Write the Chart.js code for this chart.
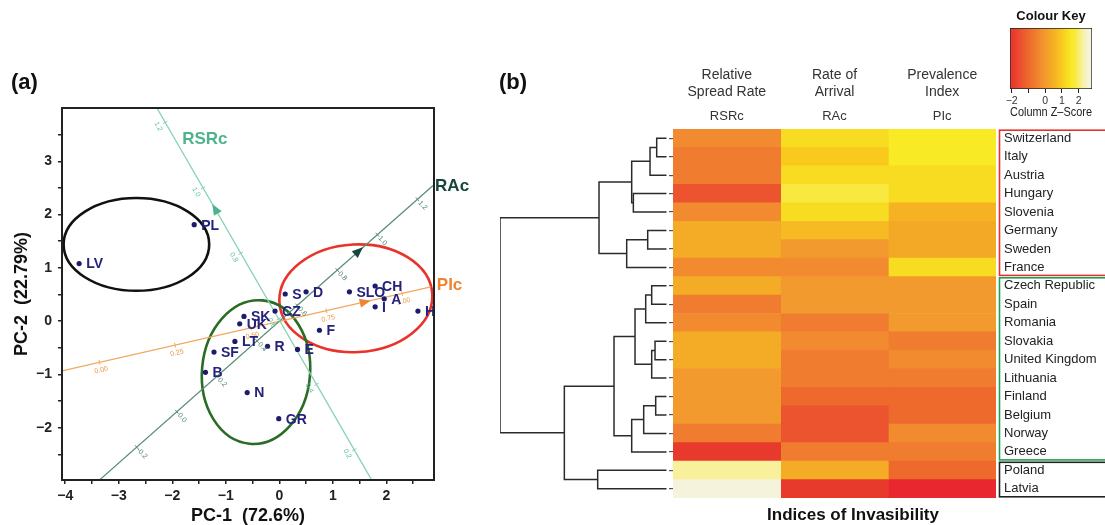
<!DOCTYPE html>
<html>
<head>
<meta charset="utf-8">
<script src="https://cdn.jsdelivr.net/npm/chart.js@4.4.1/dist/chart.umd.min.js"></script>
<style>
  body { margin: 0; background: #fff; width: 1105px; height: 525px; overflow: hidden; position: relative;
         font-family: "Liberation Sans", Arial, Helvetica, sans-serif; }
  canvas, .txt { position: absolute; }
  .panel { font-weight: bold; font-size: 22px; line-height: 22px; color: #111; }
</style>
</head>
<body>
<canvas id="pcaChart" width="495" height="525" style="left:0;top:0"></canvas>
<canvas id="treeChart" width="180" height="525" style="left:495px;top:0"></canvas>
<canvas id="heatChart" width="440" height="525" style="left:665px;top:0"></canvas>
<canvas id="keyChart" width="105" height="125" style="left:1000px;top:0"></canvas>
<div class="txt panel" style="left:11px;top:71px;">(a)</div>
<div class="txt panel" style="left:499px;top:71px;">(b)</div>
<div class="txt" style="left:703px;width:300px;top:505px;line-height:20px;text-align:center;font-weight:bold;font-size:17px;color:#111;">Indices of Invasibility</div>
<script>
// ============================
// DATA - panel (a) PCA biplot
// ============================
const pointCodes = ['S', 'D', 'SLO', 'CH', 'A', 'I', 'H', 'CZ', 'SK', 'UK', 'F', 'LT', 'R', 'E', 'SF', 'B', 'N', 'GR', 'PL', 'LV'];
const pc1 = [0.11, 0.50, 1.31, 1.79, 1.96, 1.79, 2.59, -0.08, -0.66, -0.74, 0.75, -0.83, -0.22, 0.34, -1.22, -1.38, -0.60, -0.01, -1.59, -3.74];
const pc2 = [0.51, 0.55, 0.55, 0.66, 0.42, 0.27, 0.19, 0.19, 0.09, -0.05, -0.17, -0.38, -0.47, -0.53, -0.58, -0.96, -1.34, -1.83, 1.81, 1.08];

const xTicks = [-4, -3.5, -3, -2.5, -2, -1.5, -1, -0.5, 0, 0.5, 1, 1.5, 2, 2.5];
const yTicks = [-2.5, -2, -1.5, -1, -0.5, 0, 0.5, 1, 1.5, 2, 2.5, 3, 3.5];

// cluster ellipses: centre, radii (PC units), tilt
const ellipseCx = [-2.67, 1.43, -0.435];
const ellipseCy = [1.44, 0.43, -0.955];
const ellipseRx = [1.36, 1.43, 1.01];
const ellipseRy = [0.87, 1.01, 1.35];
const ellipseTilt = [0, -3, 5];

// loading vectors: ends in PC units, value at each end, ticks
const loadNames = ['RSRc', 'RAc', 'PIc'];
const loadStart = [[-2.287, 4.0], [-3.358, -2.978], [-4.06, -0.931]];
const loadEnd = [[1.724, -2.978], [2.873, 2.547], [2.830, 0.642]];
const loadRange = [[1.244, 0.108], [-0.385, 1.278], [-0.124, 1.095]];
const loadArrowAt = [0.935, 0.906, 0.877];
const loadNameAt = [1.15, 1.278, 1.095];
const loadTicks = [
  [0.2, 0.4, 0.6, 0.8, 1.0, 1.2],
  [-0.2, 0.0, 0.2, 0.4, 0.6, 0.8, 1.0, 1.2],
  [0.0, 0.25, 0.5, 0.75, 1.0]
];
const loadTickText = [
  ['0.2', '0.4', '0.6', '0.8', '1.0', '1.2'],
  ['-0.2', '0.0', '0.2', '0.4', '0.6', '0.8', '1.0', '1.2'],
  ['0.00', '0.25', '0.50', '0.75', '1.00']
];

// ============================
// DATA - panel (b) heatmap
// ============================
const countries = ['Switzerland', 'Italy', 'Austria', 'Hungary', 'Slovenia', 'Germany', 'Sweden', 'France',
  'Czech Republic', 'Spain', 'Romania', 'Slovakia', 'United Kingdom', 'Lithuania', 'Finland', 'Belgium',
  'Norway', 'Greece', 'Poland', 'Latvia'];
const columnNames = [['Relative', 'Spread Rate'], ['Rate of', 'Arrival'], ['Prevalence', 'Index']];
const columnCodes = ['RSRc', 'RAc', 'PIc'];

// column z-scores
const rsrcZ = [-0.3, -0.6, -0.6, -1.4, -0.3, 0.4, 0.4, -0.3, 0.4, -0.6, -0.3, 0.4, 0.4, 0.0, 0.0, 0.0, -0.6, -1.9, 2.2, 2.6];
const racZ = [1.3, 1.0, 1.3, 1.8, 1.3, 0.7, 0.0, -0.3, 0.0, 0.0, -0.6, -0.3, -0.6, -0.6, -1.0, -1.4, -1.4, -0.6, 0.4, -1.9];
const picZ = [1.6, 1.6, 1.3, 1.3, 0.55, 0.35, 0.35, 1.3, 0.0, 0.0, 0.0, -0.6, -0.3, -0.6, -1.0, -1.0, -0.3, -0.6, -1.0, -2.2];
const zScores = [rsrcZ, racZ, picZ];

// dendrogram merges: >=0 is a row, <0 is merge -(k+1)
const mergeLeft = [0, -1, 3, -2, 5, -5, -4, 8, -8, 11, -10, -9, 14, -13, -14, -12, 18, -16, -7];
const mergeRight = [1, 2, 4, -3, 6, 7, -6, 9, 10, 12, 13, -11, 15, 16, 17, -15, 19, -17, -18];
const mergeHeight = [0.6, 1.0, 2.0, 2.1, 1.14, 2.4, 4.06, 0.9, 1.26, 0.7, 0.9, 1.9, 0.66, 1.38, 2.1, 3.16, 4.14, 6.14, 10];

// row clusters boxed on the right
const clusterFirst = [0, 8, 18];
const clusterLast = [7, 17, 19];

// colour key
const keyMin = -2.1, keyMax = 2.8;
const keyTicks = [-2, -1, 0, 1, 2];

// ============================
// STYLE
// ============================
const FONT = '"Liberation Sans", Arial, Helvetica, sans-serif';
Chart.defaults.font.family = FONT;
Chart.defaults.color = '#222';

const paletteStops = [-2.2, -1.9, -1.4, -1.0, -0.6, -0.3, 0.0, 0.4, 0.7, 1.0, 1.3, 1.6, 1.8, 2.2, 2.6];
const paletteColours = ['#e8282e', '#e83a2c', '#ec5430', '#ee6a2c', '#ef7c2f', '#f28b30', '#f39a2e', '#f4ab25',
  '#f6ba23', '#f9c91e', '#f8dc22', '#f8eb25', '#f9e840', '#f8f09a', '#f5f3dc'];

const ellipseColours = ['#111111', '#e8332a', '#2a6b25'];
const loadStyle = [
  { line: '#86d3b4', text: '#4cb38d', tick: '#5cbf98', along: true, dx: 7.5, dy: 1 },
  { line: '#5b8c7c', text: '#17463a', tick: '#4f8070', along: false, dx: 2, dy: 1 },
  { line: '#f2a85f', text: '#ef8530', tick: '#ee9442', along: true, dx: 6, dy: -1.5 }
];
const NAVY = '#1d1b6b';

function hexRgb(h) {
  return [1, 3, 5].map(i => parseInt(h.substr(i, 2), 16));
}

function zColour(z) {
  if (z <= paletteStops[0]) return paletteColours[0];
  for (let i = 1; i < paletteStops.length; i++) {
    if (z <= paletteStops[i]) {
      const t = (z - paletteStops[i - 1]) / (paletteStops[i] - paletteStops[i - 1]);
      const a = hexRgb(paletteColours[i - 1]), b = hexRgb(paletteColours[i]);
      const c = a.map((v, j) => Math.round(v + (b[j] - v) * t));
      return 'rgb(' + c.join(',') + ')';
    }
  }
  return paletteColours[paletteColours.length - 1];
}

const minus = v => String(v).replace('-', '\u2212');

// ============================
// PANEL (a) PLUGINS
// ============================
function loadPixel(chart, k, v) {
  const { x, y } = chart.scales;
  const [v0, v1] = loadRange[k];
  const t = (v - v0) / (v1 - v0);
  const px = loadStart[k][0] + (loadEnd[k][0] - loadStart[k][0]) * t;
  const py = loadStart[k][1] + (loadEnd[k][1] - loadStart[k][1]) * t;
  return [x.getPixelForValue(px), y.getPixelForValue(py)];
}

const ellipsePlugin = {
  id: 'ellipses',
  beforeDatasetsDraw(chart) {
    const { ctx, chartArea: a, scales: { x, y } } = chart;
    ctx.save();
    ctx.beginPath();
    ctx.rect(a.left, a.top, a.right - a.left, a.bottom - a.top);
    ctx.clip();
    ctx.lineWidth = 2.6;
    ellipseCx.forEach((cx, i) => {
      const px = x.getPixelForValue(cx), py = y.getPixelForValue(ellipseCy[i]);
      const rx = Math.abs(x.getPixelForValue(cx + ellipseRx[i]) - px);
      const ry = Math.abs(y.getPixelForValue(ellipseCy[i] + ellipseRy[i]) - py);
      ctx.strokeStyle = ellipseColours[i];
      ctx.beginPath();
      ctx.ellipse(px, py, rx, ry, ellipseTilt[i] * Math.PI / 180, 0, Math.PI * 2);
      ctx.stroke();
    });
    ctx.restore();
  }
};

const loadingPlugin = {
  id: 'loadings',
  afterDatasetsDraw(chart) {
    const ctx = chart.ctx;
    ctx.save();
    loadNames.forEach((name, k) => {
      const st = loadStyle[k];
      const p0 = loadPixel(chart, k, loadRange[k][0]);
      const p1 = loadPixel(chart, k, loadRange[k][1]);
      const len = Math.hypot(p1[0] - p0[0], p1[1] - p0[1]);
      const d = [(p1[0] - p0[0]) / len, (p1[1] - p0[1]) / len];
      const n = [-d[1], d[0]];

      // tick marks + tiny labels
      ctx.strokeStyle = st.line;
      ctx.lineWidth = 1;
      ctx.fillStyle = st.tick;
      ctx.font = '7px ' + FONT;
      ctx.textAlign = 'center';
      ctx.textBaseline = 'middle';
      loadTicks[k].forEach((v, j) => {
        const p = loadPixel(chart, k, v);
        ctx.beginPath();
        ctx.moveTo(p[0] - n[0] * 2.5, p[1] - n[1] * 2.5);
        ctx.lineTo(p[0] + n[0] * 2.5, p[1] + n[1] * 2.5);
        ctx.stroke();
        ctx.save();
        ctx.translate(p[0] + n[0] * 8, p[1] + n[1] * 8);
        ctx.rotate(st.along ? Math.atan2(d[1], d[0]) : Math.atan2(n[1], n[0]));
        ctx.fillText(loadTickText[k][j], 0, 0);
        ctx.restore();
      });

      // arrow head pointing to increasing values
      const s = Math.sign(loadRange[k][1] - loadRange[k][0]);
      const dir = [d[0] * s, d[1] * s];
      const a = loadPixel(chart, k, loadArrowAt[k]);
      ctx.fillStyle = st.text;
      ctx.beginPath();
      ctx.moveTo(a[0] + dir[0] * 6, a[1] + dir[1] * 6);
      ctx.lineTo(a[0] - dir[0] * 5 + n[0] * 4.5, a[1] - dir[1] * 5 + n[1] * 4.5);
      ctx.lineTo(a[0] - dir[0] * 5 - n[0] * 4.5, a[1] - dir[1] * 5 - n[1] * 4.5);
      ctx.closePath();
      ctx.fill();

      // vector name
      const q = loadPixel(chart, k, loadNameAt[k]);
      ctx.font = 'bold 17px ' + FONT;
      ctx.textAlign = 'left';
      ctx.fillText(name, q[0] + st.dx, q[1] + st.dy);
    });
    ctx.restore();
  }
};

const pointLabelPlugin = {
  id: 'pointLabels',
  afterDatasetsDraw(chart) {
    const { ctx, scales: { x, y } } = chart;
    ctx.save();
    ctx.font = 'bold 14px ' + FONT;
    ctx.fillStyle = '#25227a';
    ctx.textAlign = 'left';
    ctx.textBaseline = 'middle';
    pointCodes.forEach((code, i) => {
      ctx.fillText(code, x.getPixelForValue(pc1[i]) + 7, y.getPixelForValue(pc2[i]) + 1);
    });
    ctx.restore();
  }
};

const framePlugin = {
  id: 'frame',
  afterDraw(chart) {
    const { ctx, chartArea: a } = chart;
    ctx.save();
    ctx.strokeStyle = '#222';
    ctx.lineWidth = 2;
    ctx.strokeRect(a.left, a.top, a.right - a.left, a.bottom - a.top);
    ctx.restore();
  }
};

// ============================
// PANEL (a) CHART
// ============================
const pcaSets = [{
  label: 'countries',
  data: pc1.map((v, i) => ({ x: v, y: pc2[i] })),
  pointRadius: 2.6,
  pointBackgroundColor: NAVY,
  pointBorderWidth: 0
}];
loadNames.forEach((name, k) => {
  pcaSets.push({
    label: name,
    data: [{ x: loadStart[k][0], y: loadStart[k][1] }, { x: loadEnd[k][0], y: loadEnd[k][1] }],
    showLine: true,
    borderColor: loadStyle[k].line,
    borderWidth: 1.3,
    pointRadius: 0
  });
});

const axisTickFont = { weight: 'bold', size: 14 };
const intLabel = v => Number.isInteger(v) ? minus(v) : '';

new Chart(document.getElementById('pcaChart'), {
  type: 'scatter',
  data: { datasets: pcaSets },
  options: {
    responsive: false,
    animation: false,
    layout: { padding: { top: 108, right: 61, left: 0, bottom: 0 } },
    plugins: { legend: { display: false }, tooltip: { enabled: false } },
    scales: {
      x: {
        type: 'linear', min: -4.06, max: 2.89,
        afterBuildTicks: s => { s.ticks = xTicks.map(v => ({ value: v })); },
        afterFit: s => { s.height = 45; },
        ticks: { autoSkip: false, maxRotation: 0, callback: intLabel, font: axisTickFont, color: '#222', padding: 4 },
        grid: { drawOnChartArea: false, tickLength: 4, color: '#222', lineWidth: 1.5 },
        border: { display: false },
        title: { display: true, text: 'PC-1  (72.6%)', color: '#111', font: { weight: 'bold', size: 18, lineHeight: 1 }, padding: 0 }
      },
      y: {
        type: 'linear', min: -2.98, max: 4.0,
        afterBuildTicks: s => { s.ticks = yTicks.map(v => ({ value: v })); },
        afterFit: s => { s.width = 62; },
        ticks: { autoSkip: false, callback: intLabel, font: axisTickFont, color: '#222', padding: 6 },
        grid: { drawOnChartArea: false, tickLength: 4, color: '#222', lineWidth: 1.5 },
        border: { display: false },
        title: { display: true, text: 'PC-2  (22.79%)', color: '#111', font: { weight: 'bold', size: 18 }, padding: { top: 11, bottom: 0 } }
      }
    }
  },
  plugins: [ellipsePlugin, loadingPlugin, pointLabelPlugin, framePlugin]
});

// ============================
// PANEL (b) DENDROGRAM
// ============================
const nodeY = [], nodeH = [];
const refY = r => r >= 0 ? r : nodeY[-r - 1];
const refH = r => r >= 0 ? 0 : nodeH[-r - 1];
const treeSets = mergeLeft.map((a, k) => {
  const b = mergeRight[k], h = mergeHeight[k];
  nodeY[k] = (refY(a) + refY(b)) / 2;
  nodeH[k] = h;
  return {
    data: [{ x: refH(a), y: refY(a) }, { x: h, y: refY(a) }, { x: h, y: refY(b) }, { x: refH(b), y: refY(b) }],
    showLine: true, borderColor: '#2b2b2b', borderWidth: 1.5, pointRadius: 0
  };
});

new Chart(document.getElementById('treeChart'), {
  type: 'scatter',
  data: { datasets: treeSets },
  options: {
    responsive: false,
    animation: false,
    layout: { padding: { top: 129, bottom: 27, left: 5, right: 8.3 } },
    plugins: { legend: { display: false }, tooltip: { enabled: false } },
    scales: {
      x: { type: 'linear', min: 0, max: 10, reverse: true, display: false },
      y: { type: 'linear', min: -0.5, max: countries.length - 0.5, reverse: true, display: false }
    }
  }
});

// ============================
// PANEL (b) HEATMAP
// ============================
const clusterColours = ['#e8312f', '#1fa050', '#222222'];
const clusterPlugin = {
  id: 'clusters',
  afterDraw(chart) {
    const { ctx, chartArea: a, scales: { y } } = chart;
    const half = (y.getPixelForValue(1) - y.getPixelForValue(0)) / 2;
    ctx.save();
    ctx.lineWidth = 1.6;
    clusterFirst.forEach((first, k) => {
      const top = y.getPixelForValue(first) - half + 1.2;
      const bottom = y.getPixelForValue(clusterLast[k]) + half - 1.2;
      ctx.strokeStyle = clusterColours[k];
      ctx.strokeRect(a.right + 3.5, top, 200, bottom - top);
    });
    ctx.restore();
  }
};

new Chart(document.getElementById('heatChart'), {
  type: 'bar',
  data: {
    labels: countries,
    datasets: columnCodes.map((code, c) => ({
      label: code,
      data: countries.map(() => [c, c + 1]),
      backgroundColor: zScores[c].map(zColour),
      xAxisID: 'x', yAxisID: 'y',
      grouped: false, barPercentage: 1, categoryPercentage: 1, borderWidth: 0
    }))
  },
  options: {
    indexAxis: 'y',
    responsive: false,
    animation: false,
    layout: { padding: { top: 60, bottom: 27, left: 0, right: 0 } },
    plugins: { legend: { display: false }, tooltip: { enabled: false } },
    scales: {
      x: { type: 'linear', min: 0, max: 3, display: false },
      y: {
        type: 'category', position: 'left', offset: true,
        afterFit: s => { s.width = 8; },
        ticks: { display: false },
        grid: { drawOnChartArea: false, offset: false, tickLength: 4, color: '#555', lineWidth: 1.2 },
        border: { display: false }
      },
      xName: {
        type: 'category', axis: 'x', position: 'top', labels: columnNames, offset: true, weight: 1,
        afterFit: s => { s.height = 47; },
        grid: { display: false, drawTicks: false }, border: { display: false },
        ticks: { autoSkip: false, maxRotation: 0, padding: 6.5, color: '#333', font: { size: 14, lineHeight: 17 / 14 } }
      },
      xCode: {
        type: 'category', axis: 'x', position: 'top', labels: columnCodes, offset: true, weight: 0,
        afterFit: s => { s.height = 22; },
        grid: { display: false, drawTicks: false }, border: { display: false },
        ticks: { autoSkip: false, maxRotation: 0, padding: 5.2, color: '#333', font: { size: 13 } }
      },
      yLab: {
        type: 'category', axis: 'y', position: 'right', labels: countries, offset: true,
        afterFit: s => { s.width = 109; },
        grid: { display: false, drawTicks: false }, border: { display: false },
        ticks: { autoSkip: false, padding: 8, color: '#222', font: { size: 13 } }
      }
    }
  },
  plugins: [clusterPlugin]
});

// ============================
// COLOUR KEY
// ============================
function keyGradient(context) {
  const chart = context.chart;
  if (!chart.chartArea) return paletteColours[0];
  const xs = chart.scales.x;
  const g = chart.ctx.createLinearGradient(xs.getPixelForValue(keyMin), 0, xs.getPixelForValue(keyMax), 0);
  paletteStops.forEach((z, i) => {
    const t = (z - keyMin) / (keyMax - keyMin);
    if (t >= 0 && t <= 1) g.addColorStop(t, paletteColours[i]);
  });
  return g;
}

new Chart(document.getElementById('keyChart'), {
  type: 'bar',
  data: {
    labels: ['key'],
    datasets: [{
      data: [[keyMin, keyMax]],
      backgroundColor: keyGradient,
      borderColor: '#222', borderWidth: 1, borderSkipped: false,
      barPercentage: 1, categoryPercentage: 1
    }]
  },
  options: {
    indexAxis: 'y',
    responsive: false,
    animation: false,
    layout: { padding: { left: 10, right: 13, top: 0, bottom: 0 } },
    plugins: {
      legend: { display: false }, tooltip: { enabled: false },
      title: { display: true, text: 'Colour Key', color: '#111', font: { weight: 'bold', size: 13 }, padding: { top: 9, bottom: 3.4 } }
    },
    scales: {
      x: {
        type: 'linear', min: keyMin, max: keyMax,
        afterBuildTicks: s => { s.ticks = keyTicks.map(v => ({ value: v })); },
        afterFit: s => { s.height = 36; },
        ticks: { autoSkip: false, maxRotation: 0, padding: 2, color: '#333', font: { size: 10.5 },
                 callback: v => v === -1 ? '' : minus(v) },
        grid: { drawOnChartArea: false, tickLength: 4, color: '#222' },
        border: { display: false },
        title: { display: true, text: 'Column Z\u2013Score', color: '#222', font: { size: 12 }, padding: { top: 0, bottom: 4.8 } }
      },
      y: { display: false }
    }
  }
});
</script>
</body>
</html>
